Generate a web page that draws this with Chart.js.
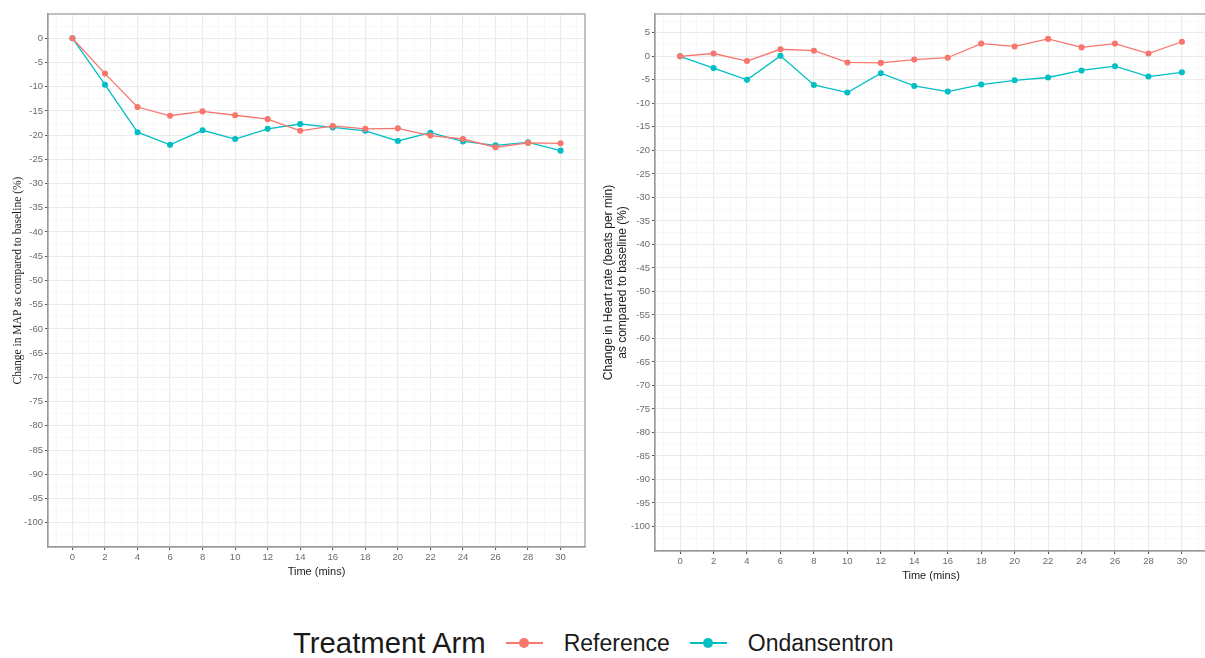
<!DOCTYPE html>
<html>
<head>
<meta charset="utf-8">
<script src="https://cdn.jsdelivr.net/npm/chart.js@4"></script>
<style>
    body { margin: 0; background: #fff; width: 1205px; height: 658px; overflow: hidden; position: relative; font-family: "Liberation Sans", Arial, sans-serif; }
    .panel { position: absolute; top: 0; }
    #map-wrap { left: 0; width: 600px; height: 579px; }
    #hr-wrap { left: 600px; width: 620px; height: 583px; }
    .legend { position: absolute; top: 626px; left: 293px; display: flex; align-items: center; white-space: nowrap; color: #1a1a1a; }
    .legend .title { font-size: 29.3px; margin-right: 20px; }
    .legend .item { font-size: 23px; margin-right: 20px; }
    .key { position: relative; width: 37px; height: 20px; margin-right: 21px; }
    .key .ln { position: absolute; left: 0; right: 0; top: 9px; height: 2px; }
    .key .dot { position: absolute; left: 13px; top: 5px; width: 10px; height: 10px; border-radius: 50%; }
</style>
</head>
<body>
<div class="panel" id="map-wrap"><canvas id="map-chart"></canvas></div>
<div class="panel" id="hr-wrap"><canvas id="hr-chart"></canvas></div>
<div class="legend">
    <span class="title">Treatment Arm</span>
    <span class="key"><span class="ln" style="background:#F8766D"></span><span class="dot" style="background:#F8766D"></span></span>
    <span class="item">Reference</span>
    <span class="key"><span class="ln" style="background:#00BFC4"></span><span class="dot" style="background:#00BFC4"></span></span>
    <span class="item">Ondansentron</span>
</div>
<script>
// data
const timePoints = [0, 2, 4, 6, 8, 10, 12, 14, 16, 18, 20, 22, 24, 26, 28, 30];

const mapReference = [0, -7.3, -14.2, -16.0, -15.1, -15.9, -16.7, -19.1, -18.1, -18.7, -18.6, -20.1, -20.8, -22.5, -21.6, -21.7];
const mapOndansentron = [0, -9.6, -19.4, -22.0, -19.0, -20.8, -18.7, -17.7, -18.4, -19.1, -21.2, -19.5, -21.3, -22.1, -21.5, -23.2];

const hrReference = [0, 0.6, -1.0, 1.5, 1.2, -1.3, -1.4, -0.7, -0.3, 2.7, 2.1, 3.7, 1.9, 2.7, 0.6, 3.1];
const hrOndansentron = [0, -2.5, -5.0, 0.1, -6.1, -7.7, -3.6, -6.3, -7.5, -6.0, -5.1, -4.5, -3.0, -2.1, -4.3, -3.4];

// tick labels (majors); minor grid lines sit half-way between
const xTickLabels = [0, 2, 4, 6, 8, 10, 12, 14, 16, 18, 20, 22, 24, 26, 28, 30];
const mapYTickLabels = [0, -5, -10, -15, -20, -25, -30, -35, -40, -45, -50, -55, -60, -65, -70, -75, -80, -85, -90, -95, -100];
const hrYTickLabels = [5, 0, -5, -10, -15, -20, -25, -30, -35, -40, -45, -50, -55, -60, -65, -70, -75, -80, -85, -90, -95, -100];

const RED = '#F8766D';
const TEAL = '#00BFC4';

function gridValues(majors) {
    const step = Math.abs(majors[1] - majors[0]) / 2;
    const lo = Math.min(...majors) - 2 * step;
    const hi = Math.max(...majors) + 2 * step;
    const out = [];
    for (let v = lo; v <= hi + 1e-9; v += step) out.push(Math.round(v * 100) / 100);
    return out;
}

function isMajor(v, majors) {
    return majors.some(m => Math.abs(m - v) < 1e-6);
}

function series(xs, ys) {
    return xs.map((x, i) => ({ x: x, y: ys[i] }));
}

function makeChart(id, refData, ondData, opts) {
    const yTicks = opts.yTicks;
    const xGrid = gridValues(xTickLabels).filter(v => v >= -1.5 && v <= 31.5);
    const yGrid = gridValues(yTicks).filter(v => v >= opts.yMin && v <= opts.yMax);

    return new Chart(document.getElementById(id), {
        type: 'line',
        data: {
            datasets: [{
                label: 'Reference',
                data: series(timePoints, refData),
                borderColor: RED,
                backgroundColor: RED,
                borderWidth: 1.3,
                pointRadius: 2.4,
                pointHoverRadius: 2.4,
                tension: 0
            }, {
                label: 'Ondansentron',
                data: series(timePoints, ondData),
                borderColor: TEAL,
                backgroundColor: TEAL,
                borderWidth: 1.3,
                pointRadius: 2.4,
                pointHoverRadius: 2.4,
                tension: 0
            }]
        },
        options: {
            responsive: true,
            maintainAspectRatio: false,
            animation: false,
            layout: { padding: { left: 0, right: opts.padRight, top: opts.padTop, bottom: 0 } },
            plugins: { legend: { display: false }, tooltip: { enabled: false } },
            scales: {
                x: {
                    type: 'linear',
                    min: -1.5,
                    max: 31.5,
                    afterBuildTicks: s => { s.ticks = xGrid.map(v => ({ value: v })); },
                    afterFit: s => { s.height = opts.xHeight; },
                    border: { color: '#999999', width: 1.2 },
                    grid: {
                        color: c => isMajor(c.tick.value, xTickLabels) ? '#ebebeb' : '#f5f5f5',
                        lineWidth: c => isMajor(c.tick.value, xTickLabels) ? 1.1 : 0.7,
                        tickColor: c => isMajor(c.tick.value, xTickLabels) ? '#555555' : 'rgba(0,0,0,0)',
                        tickLength: 3
                    },
                    ticks: {
                        autoSkip: false,
                        maxRotation: 0,
                        padding: 2,
                        color: '#6b6b6b',
                        font: { size: 9.5, family: 'Liberation Sans' },
                        callback: v => isMajor(v, xTickLabels) ? String(v) : ''
                    },
                    title: {
                        display: true,
                        text: 'Time (mins)',
                        color: '#222222',
                        font: { size: 11, family: 'Liberation Sans' },
                        padding: { top: 1, bottom: 0 }
                    }
                },
                y: {
                    type: 'linear',
                    min: opts.yMin,
                    max: opts.yMax,
                    afterBuildTicks: s => { s.ticks = yGrid.map(v => ({ value: v })); },
                    afterFit: s => { s.width = opts.yWidth; },
                    border: { color: '#999999', width: 1.2 },
                    grid: {
                        color: c => isMajor(c.tick.value, yTicks) ? '#ebebeb' : '#f5f5f5',
                        lineWidth: c => isMajor(c.tick.value, yTicks) ? 1.1 : 0.7,
                        tickColor: c => isMajor(c.tick.value, yTicks) ? '#555555' : 'rgba(0,0,0,0)',
                        tickLength: 3
                    },
                    ticks: {
                        autoSkip: false,
                        padding: 2,
                        color: '#6b6b6b',
                        font: { size: 9.5, family: 'Liberation Sans' },
                        callback: v => isMajor(v, yTicks) ? String(v) : ''
                    },
                    title: {
                        display: true,
                        text: opts.yTitle,
                        color: '#1a1a1a',
                        font: opts.yTitleFont,
                        padding: opts.yTitlePad
                    }
                }
            }
        },
        plugins: [{
            // full panel border, like ggplot theme_bw
            id: 'panelBorder',
            afterDraw(chart) {
                const { ctx, chartArea: a } = chart;
                ctx.save();
                ctx.strokeStyle = '#999999';
                ctx.lineWidth = 1.2;
                ctx.strokeRect(a.left, a.top, a.right - a.left, a.bottom - a.top);
                ctx.restore();
            }
        }]
    });
}

document.addEventListener('DOMContentLoaded', () => {
    makeChart('map-chart', mapReference, mapOndansentron, {
        yTicks: mapYTickLabels,
        yMin: -105, yMax: 5,
        padTop: 14, padRight: 15,
        yWidth: 48, xHeight: 32,
        yTitle: 'Change in MAP as compared to baseline (%)',
        yTitleFont: { size: 11.5, family: 'Liberation Serif' },
        yTitlePad: { top: 11, bottom: 0 }
    });
    makeChart('hr-chart', hrReference, hrOndansentron, {
        yTicks: hrYTickLabels,
        yMin: -105.2, yMax: 9,
        padTop: 14, padRight: 13,
        yWidth: 55, xHeight: 32,
        yTitle: ['Change in Heart rate (beats per min)', 'as compared to baseline (%)'],
        yTitleFont: { size: 12, family: 'Liberation Sans', lineHeight: 1.15 },
        yTitlePad: { top: 2, bottom: 0 }
    });
});
</script>
</body>
</html>
